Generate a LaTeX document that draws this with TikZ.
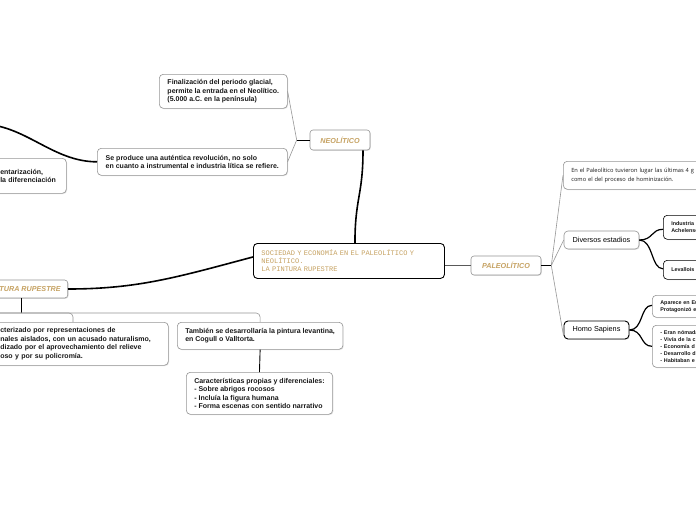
\documentclass[tikz,border=0pt]{standalone}
\usepackage{fontspec}
\setmainfont{Liberation Sans}
\newfontfamily\monofont{Liberation Mono}
\newfontfamily\notefont{Open Sans}
\usetikzlibrary{positioning,shadows}
\definecolor{tan}{RGB}{198,162,98}
\definecolor{edge}{RGB}{150,150,150}
\tikzset{
  shade/.style={drop shadow={shadow xshift=0.8pt, shadow yshift=-0.8pt, opacity=0.25}},
  card/.style={draw=edge, line width=0.6pt, rounded corners=4pt, fill=white, shade,
    align=left, inner xsep=8pt, inner ysep=0pt, text=black!90,
    font=\bfseries\fontsize{7}{8.5}\selectfont},
  smallcard/.style={card, font=\bfseries\fontsize{5.4}{7}\selectfont},
  topic/.style={draw=edge, line width=0.6pt, rounded corners=3pt, fill=white, shade,
    inner xsep=7pt, inner ysep=0pt, text=tan, font=\bfseries\itshape\fontsize{7.2}{8}\selectfont},
  plain/.style={card, text=black, font=\fontsize{7.3}{8.5}\selectfont},
  stem/.style={line width=1.6pt, black},
  trunk/.style={line width=0.9pt, black},
  bough/.style={line width=1.2pt, black},
  twig/.style={line width=0.6pt, edge}
}
\begin{document}
\begin{tikzpicture}[x=1pt,y=-1pt]
  \useasboundingbox (0,0) rectangle (696,520);
  \clip (0,0) rectangle (696,520);
  \fill[white] (0,0) rectangle (696,520);

  \node[draw=black, line width=0.9pt, rounded corners=4pt, fill=white, align=left,
        inner xsep=8pt, text width=175pt, minimum height=35pt, text=tan,
        font=\monofont\fontsize{7}{8}\selectfont, anchor=north west]
        (soc) at (253,243) {SOCIEDAD Y ECONOMÍA EN EL PALEOLÍTICO Y\\NEOLÍTICO.\\LA PINTURA RUPESTRE};

  \node[topic, minimum width=60pt, minimum height=20pt] (neo) at (340,140) {NEOLÍTICO};
  \node[topic, minimum width=70pt, minimum height=19pt] (paleo) at (506,265.5) {PALEOLÍTICO};
  \node[topic, minimum height=18pt, anchor=east] (pintura) at (68,289) {PINTURA RUPESTRE};

  \node[card, minimum width=128pt, minimum height=34pt, anchor=north west] (fin) at (159,74)
    {Finalización del periodo glacial,\\permite la entrada en el Neolítico.\\(5.000 a.C. en la península)};
  \node[card, minimum width=190pt, minimum height=27pt, anchor=north west] (rev) at (97,148)
    {Se produce una auténtica revolución, no solo\\en cuanto a instrumental e industria lítica se refiere.};
  \node[card, text width=58pt, minimum height=35pt, anchor=north west] (sed) at (-8,158)
    {entarización,\\ la diferenciación};

  \node[card, text width=160pt, minimum height=43pt, anchor=north west] (rasgos) at (-8,322)
    {cterizado por representaciones de\\nales aislados, con un acusado naturalismo,\\dizado por el aprovechamiento del relieve\\oso y por su policromía.};
  \node[card, minimum width=165pt, minimum height=27pt, anchor=north west] (levant) at (177,322)
    {También se desarrollaría la pintura levantina,\\en Cogull o Valltorta.};
  \node[card, minimum width=146pt, minimum height=42pt, anchor=north west] (propias) at (186,372)
    {Características propias y diferenciales:\\- Sobre abrigos rocosos\\- Incluía la figura humana\\- Forma escenas con sentido narrativo};

  \node[card, text width=150pt, minimum height=28pt, anchor=north west,
        font=\notefont\fontsize{5.7}{9.5}\selectfont] (enel) at (563,161)
    {En el Paleolítico tuvieron lugar las últimas 4 g\\como el del proceso de hominización.};
  \node[plain, minimum width=75pt, minimum height=18pt] (estadios) at (601.5,240) {Diversos estadios};
  \node[plain, draw=black, line width=0.9pt, minimum width=65pt, minimum height=18pt] (sapiens) at (596.5,330) {Homo Sapiens};

  \node[smallcard, draw=black, text width=40pt, minimum height=24pt, anchor=north west] (achel) at (663,215)
    {Industria\\Achelense};
  \node[smallcard, draw=black, text width=40pt, minimum height=19pt, anchor=north west] (leval) at (663,260)
    {Levallois};
  \node[smallcard, text width=50pt, minimum height=22pt, anchor=north west] (aparece) at (652,295)
    {Aparece en Eu\\Protagonizó e};
  \node[smallcard, text width=50pt, minimum height=42pt, anchor=north west] (eran) at (652,325)
    {- Eran nómada\\- Vivía de la c\\- Economía d\\- Desarrollo d\\- Habitaban e};

  \coordinate (farleft) at (-20,124);
  \coordinate[left=13pt of neo.west] (neoj);
  \coordinate[right=10pt of paleo.east] (paleoj);
  \coordinate (bus) at (21,313);
  \coordinate (busW) at (-20,313);
  \coordinate (rasgosTop) at (73,322);

  \draw[stem] ([xshift=6pt]soc.north) .. controls +(0,-45) and +(0,45) .. ([xshift=23pt]neo.south);
  \draw[stem] ([yshift=4pt]soc.west) .. controls +(-75,20) and +(70,0) .. (pintura.east);
  \draw[line width=1.2pt, black!65] (soc.east |- paleo.west) -- (paleo.west);

  \draw[trunk] (neo.west) -- (neoj);
  \draw[twig] (neoj) -- (fin.east);
  \draw[twig] (neoj) -- (rev.east);
  \draw[stem] (rev.west) .. controls +(-45,0) and +(45,0) .. (farleft);

  \draw[trunk] (paleo.east) -- (paleoj);
  \draw[twig] (paleoj) -- (enel.west);
  \draw[twig] (paleoj) -- (estadios.west);
  \draw[twig] (paleoj) -- ([yshift=-6pt]sapiens.west);

  \draw[bough] (estadios.east) .. controls +(14,0) and +(-12,0) .. ([yshift=-2pt]achel.west);
  \draw[bough] (estadios.east) .. controls +(14,0) and +(-12,0) .. ([yshift=1pt]leval.west);
  \draw[bough] (sapiens.east) .. controls +(14,0) and +(-12,0) .. ([yshift=1pt]aparece.west);
  \draw[bough] (sapiens.east) .. controls +(14,0) and +(-12,0) .. (eran.west);

  \draw[trunk] (pintura.south -| bus) -- (bus);
  \draw[twig, rounded corners=4pt] (busW) -| (levant.north);
  \draw[twig, rounded corners=4pt] (busW) -| (rasgosTop);
  \draw[trunk] (levant.south) -- (propias.north);
\end{tikzpicture}
\end{document}
